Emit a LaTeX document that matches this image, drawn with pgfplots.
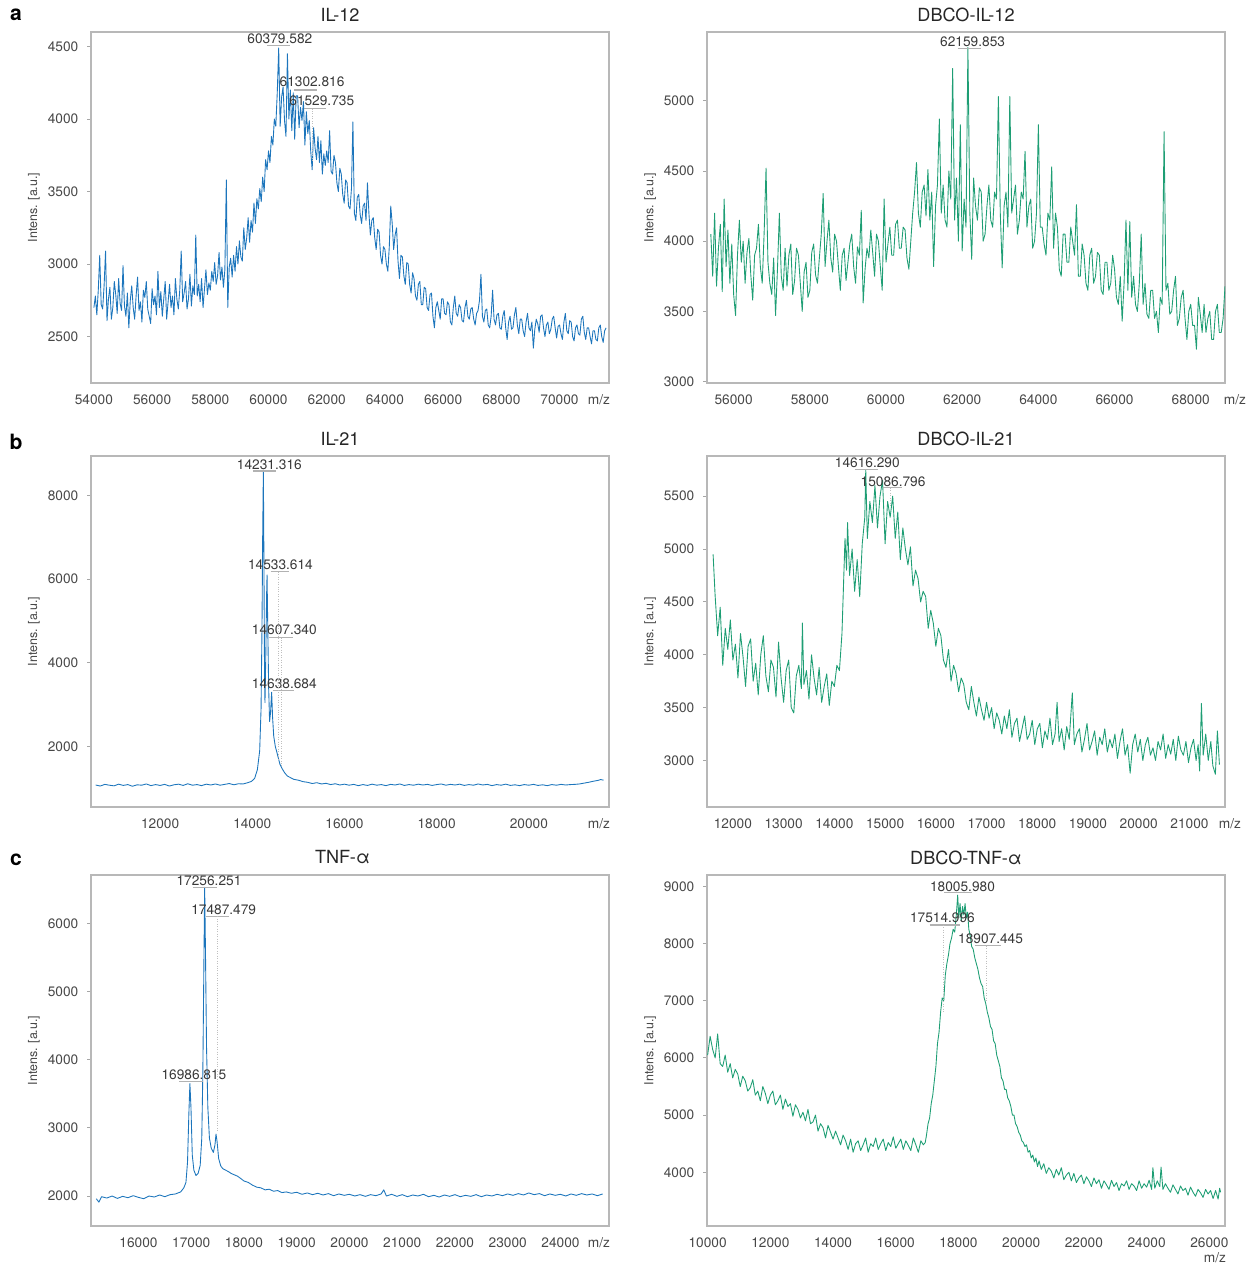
\documentclass[border=0pt]{standalone}
\usepackage{fontspec}
\setmainfont{TeX Gyre Heros}
\usepackage{pgfplots}
\pgfplotsset{compat=1.18}

\definecolor{msblue}{RGB}{28,117,188}
\definecolor{msgreen}{RGB}{30,158,116}

\pgfplotsset{
  ms/.style={
    scale only axis, width=10.36cm, height=7.02cm,
    axis line style={draw=black!28, line width=0.6pt},
    ytick style={draw=black!35, line width=0.5pt},
    xtick style={draw=none},
    major tick length=2pt, tick align=outside,
    xtick pos=bottom, ytick pos=left,
    tick label style={font=\fontsize{7.8}{9}\selectfont, text=black!72},
    yticklabel style={xshift=-0.06cm},
    xticklabel style={yshift=-0.04cm},
    /pgf/number format/assume math mode=true,
    /pgf/number format/1000 sep={},
    scaled ticks=false,
    ylabel={Intens. [a.u.]},
    ylabel style={font=\fontsize{7.1}{8}\selectfont, text=black!72,
      at={(axis description cs:-0.11,0.5)}, anchor=center},
    title style={font=\fontsize{10.3}{12}\selectfont, text=black!85,
      at={(axis description cs:0.5,1)}, anchor=center, yshift=0.14cm},
    xlabel={m/z},
    xlabel style={font=\fontsize{7.8}{9}\selectfont, text=black!72,
      at={(axis description cs:1,0)}, anchor=north, yshift=-0.1cm},
    clip mode=individual,
  },
  spec/.style={line width=0.5pt, line join=round},
}

% peak label: x, y, text, underline from, underline to, underline y
\newcommand{\pk}[6]{%
  \node[font=\fontsize{7.8}{9}\selectfont, text=black!78, inner sep=0pt] at (axis cs:#1,#2) {#3};
  \draw[black!30, line width=0.6pt] (axis cs:#4,#6) -- (axis cs:#5,#6);}
\newcommand{\dl}[3]{%
  \draw[black!25, densely dotted, line width=0.4pt] (axis cs:#1,#2) -- (axis cs:#1,#3);}

\begin{document}
\begin{tikzpicture}[x=1cm,y=1cm]
\path[use as bounding box] (0,0) rectangle (25.14,25.26);

\node[font=\bfseries\fontsize{12}{14}\selectfont] at (0.32,24.96) {a};
\node[font=\bfseries\fontsize{12}{14}\selectfont] at (0.32,16.42) {b};
\node[font=\bfseries\fontsize{12}{14}\selectfont] at (0.32,8.06) {c};

% ---------------- a: IL-12
\begin{axis}[ms, at={(1.82cm,17.6cm)}, anchor=south west,
  title={IL-12}, title style={xshift=-0.2cm},
  xlabel style={xshift=-0.2cm},
  xmin=53900, xmax=71700, ymin=2180, ymax=4600,
  xtick={54000,56000,...,70000}, ytick={2500,3000,3500,4000,4500}]
\addplot[spec, msblue] coordinates {
(54000,2700)(54050,2780)(54100,2650)(54150,2820)(54200,3060)(54250,2720)(54300,2690)(54350,2850)(54400,3090)(54450,2610)
(54500,2760)(54550,2840)(54600,2620)(54650,2700)(54700,2880)(54750,2790)(54800,2660)(54850,2900)(54900,2730)(54950,2680)
(55000,2990)(55050,2710)(55100,2640)(55150,2800)(55200,2560)(55250,2750)(55300,2850)(55350,2700)(55400,2620)(55450,2780)
(55500,2910)(55550,2680)(55600,2740)(55650,2600)(55700,2820)(55750,2770)(55800,2880)(55850,2690)(55900,2640)(55950,2590)
(56000,2830)(56050,2720)(56100,2780)(56150,2650)(56200,2950)(56250,2700)(56300,2810)(56350,2640)(56400,2760)(56450,2880)
(56500,2620)(56550,2740)(56600,2860)(56650,2700)(56700,2780)(56750,2650)(56800,2900)(56850,2760)(56900,2690)(56950,2820)
(57000,3090)(57050,2740)(57100,2800)(57150,2880)(57200,2690)(57250,2760)(57300,2930)(57350,2710)(57400,2850)(57450,2790)
(57500,3200)(57550,2780)(57600,2860)(57650,2740)(57700,2900)(57750,2700)(57800,2830)(57850,2960)(57900,2790)(57950,2870)
(58000,2820)(58050,2950)(58100,2880)(58150,3010)(58200,2860)(58250,2920)(58300,3080)(58350,2890)(58400,2980)(58450,2840)
(58500,2960)(58550,3580)(58600,2700)(58650,2980)(58700,3040)(58750,2910)(58800,3060)(58850,2950)(58900,3120)(58950,3000)
(59000,3160)(59050,3050)(59100,3020)(59150,3250)(59200,3100)(59250,3180)(59300,3320)(59350,3150)(59400,3300)(59450,3220)
(59500,3420)(59550,3280)(59600,3450)(59650,3380)(59700,3520)(59750,3430)(59800,3600)(59850,3500)(59900,3720)(59950,3650)
(60000,3780)(60050,3700)(60100,3880)(60150,3820)(60200,4000)(60250,3950)(60300,4180)(60350,4490)(60400,3950)(60450,4150)
(60500,4220)(60550,3990)(60600,3880)(60650,4450)(60700,4000)(60750,4200)(60800,3920)(60850,4180)(60900,3860)(60950,4160)
(61000,4160)(61050,3940)(61100,4080)(61150,3990)(61200,4120)(61250,3820)(61300,4050)(61350,3900)(61400,3990)(61450,3780)
(61500,3650)(61550,3940)(61600,3800)(61650,3720)(61700,3880)(61750,3700)(61800,3850)(61850,3620)(61900,3760)(61950,3680)
(62000,3780)(62050,3700)(62100,3920)(62150,3640)(62200,3620)(62250,3750)(62300,3700)(62350,3560)(62400,3500)(62450,3660)
(62500,3620)(62550,3480)(62600,3420)(62650,3580)(62700,3560)(62750,3400)(62800,3380)(62850,3520)(62900,3980)(62950,3350)
(63000,3300)(63050,3460)(63100,3480)(63150,3340)(63200,3280)(63250,3400)(63300,3420)(63350,3300)(63400,3560)(63450,3350)
(63500,3200)(63550,3300)(63600,3320)(63650,3180)(63700,3100)(63750,3240)(63800,3220)(63850,3060)(63900,3000)(63950,3120)
(64000,3100)(64050,3000)(64100,2950)(64150,3120)(64200,3400)(64250,3280)(64300,3100)(64350,3200)(64400,3250)(64450,3020)
(64500,2900)(64550,3060)(64600,3050)(64650,2920)(64700,2860)(64750,3010)(64800,3000)(64850,2860)(64900,2800)(64950,2940)
(65000,2900)(65050,2780)(65100,2750)(65150,2860)(65200,2880)(65250,2720)(65300,2720)(65350,2840)(65400,2830)(65450,2700)
(65500,2680)(65550,2790)(65600,2800)(65650,2640)(65700,2560)(65750,2700)(65800,2740)(65850,2680)(65900,2620)(65950,2760)
(66000,2760)(66050,2660)(66100,2650)(66150,2740)(66200,2720)(66250,2600)(66300,2580)(66350,2700)(66400,2780)(66450,2660)
(66500,2640)(66550,2720)(66600,2700)(66650,2610)(66700,2600)(66750,2700)(66800,2750)(66850,2640)(66900,2620)(66950,2690)
(67000,2700)(67050,2620)(67100,2580)(67150,2660)(67200,2680)(67250,2750)(67300,2930)(67350,2640)(67400,2600)(67450,2680)
(67500,2690)(67550,2580)(67600,2560)(67650,2640)(67700,2820)(67750,2620)(67800,2580)(67850,2650)(67900,2660)(67950,2560)
(68000,2550)(68050,2640)(68100,2680)(68150,2560)(68200,2480)(68250,2600)(68300,2640)(68350,2550)(68400,2560)(68450,2650)
(68500,2700)(68550,2580)(68600,2520)(68650,2620)(68700,2620)(68750,2540)(68800,2500)(68850,2600)(68900,2660)(68950,2560)
(69000,2540)(69050,2600)(69100,2420)(69150,2550)(69200,2620)(69250,2590)(69300,2530)(69350,2640)(69400,2650)(69450,2560)
(69500,2500)(69550,2580)(69600,2600)(69650,2520)(69700,2550)(69750,2620)(69800,2640)(69850,2560)(69900,2490)(69950,2570)
(70000,2580)(70050,2520)(70100,2480)(70150,2600)(70200,2660)(70250,2540)(70300,2520)(70350,2610)(70400,2600)(70450,2500)
(70500,2470)(70550,2560)(70600,2580)(70650,2520)(70700,2510)(70750,2620)(70800,2640)(70850,2530)(70900,2480)(70950,2560)
(71000,2560)(71050,2500)(71100,2450)(71150,2540)(71200,2540)(71250,2480)(71300,2470)(71350,2560)(71400,2580)(71450,2500)
(71500,2460)(71550,2540)(71600,2560)
};
\pk{60390}{4555}{60379.582}{59940}{60750}{4507}
\pk{61495}{4259}{61302.816}{60890}{61670}{4200}
\pk{61830}{4124}{61529.735}{61230}{61970}{4072}
\dl{61500}{4072}{3700}
\end{axis}

% ---------------- a: DBCO-IL-12
\begin{axis}[ms, at={(14.14cm,17.6cm)}, anchor=south west,
  title={DBCO-IL-12},
  xlabel style={xshift=0.2cm},
  xmin=55300, xmax=68900, ymin=2990, ymax=5490,
  xtick={56000,58000,...,68000}, ytick={3000,3500,4000,4500,5000}]
\addplot[spec, msgreen] coordinates {
(55400,4050)(55450,3750)(55500,4200)(55550,3680)(55600,3950)(55650,4120)(55700,3640)(55750,4300)(55800,3820)(55850,4080)
(55900,3700)(55950,3980)(56000,3620)(56050,3470)(56100,3900)(56150,4150)(56200,3850)(56250,4000)(56300,3700)(56350,3920)
(56400,4020)(56450,3760)(56500,3580)(56550,3900)(56600,3950)(56650,4120)(56700,3820)(56750,3700)(56800,4060)(56850,4520)
(56900,3850)(56950,3700)(57000,3620)(57050,3880)(57100,3470)(57150,3800)(57200,4200)(57250,3750)(57300,3650)(57350,3950)
(57400,3680)(57450,3900)(57500,3980)(57550,3620)(57600,3720)(57650,3950)(57700,3900)(57750,3700)(57800,3500)(57850,3780)
(57900,3850)(57950,3600)(58000,3650)(58050,3920)(58100,3980)(58150,3760)(58200,3700)(58250,3880)(58300,4050)(58350,4340)
(58400,3820)(58450,4000)(58500,4150)(58550,3880)(58600,3780)(58650,4050)(58700,4000)(58750,3820)(58800,3650)(58850,3900)
(58900,3950)(58950,3720)(59000,3850)(59050,3980)(59100,4050)(59150,3820)(59200,3700)(59250,3960)(59300,3900)(59350,4220)
(59400,3560)(59450,3800)(59500,3950)(59550,3880)(59600,4080)(59650,3920)(59700,3750)(59750,4050)(59800,4000)(59850,3820)
(59900,3650)(59950,4300)(60000,3850)(60050,3980)(60100,4100)(60150,3900)(60200,3900)(60250,4120)(60300,4150)(60350,3950)
(60400,3950)(60450,4100)(60500,4080)(60550,3880)(60600,3800)(60650,4000)(60700,4200)(60750,4350)(60800,4560)(60850,4200)
(60900,4100)(60950,4350)(61000,4400)(61050,4180)(61100,4510)(61150,4150)(61200,4350)(61250,3820)(61300,4250)(61350,4400)
(61400,4870)(61450,4200)(61500,4400)(61550,4150)(61600,4100)(61650,4500)(61700,4300)(61750,5230)(61800,4150)(61850,4450)
(61900,4000)(61950,4830)(62000,3930)(62050,4300)(62100,4100)(62150,5380)(62200,4200)(62250,3870)(62300,4450)(62350,4250)
(62400,4150)(62450,4380)(62500,4350)(62550,4000)(62600,4050)(62650,4250)(62700,4400)(62750,4150)(62800,4100)(62850,4350)
(62900,4300)(62950,5030)(63000,4200)(63050,3810)(63100,4250)(63150,4350)(63200,4100)(63250,5030)(63300,4200)(63350,4300)
(63400,4400)(63450,4050)(63500,4150)(63550,4350)(63600,4300)(63650,4640)(63700,4100)(63750,4250)(63800,4300)(63850,3950)
(63900,4000)(63950,4200)(64000,4830)(64050,4100)(64100,4100)(64150,3980)(64200,3900)(64250,4200)(64300,4150)(64350,4530)
(64400,3950)(64450,4200)(64500,4100)(64550,3800)(64600,3750)(64650,4050)(64700,4050)(64750,3850)(64800,3850)(64850,4100)
(64900,4000)(64950,3900)(65000,4260)(65050,3750)(65100,3750)(65150,3980)(65200,3900)(65250,3700)(65300,3650)(65350,3900)
(65400,3950)(65450,3700)(65500,3750)(65550,3920)(65600,3900)(65650,3650)(65700,3620)(65750,3850)(65800,3850)(65850,3650)
(65900,3700)(65950,3900)(66000,3800)(66050,3600)(66100,3550)(66150,3750)(66200,3430)(66250,3700)(66300,4150)(66350,3650)
(66400,4140)(66450,3600)(66500,3750)(66550,3550)(66600,3500)(66650,3700)(66700,4050)(66750,3550)(66800,3700)(66850,3480)
(66900,3450)(66950,3650)(67000,3650)(67050,3450)(67100,3500)(67150,3350)(67200,3600)(67250,3550)(67300,4780)(67350,3650)
(67400,3700)(67450,3480)(67500,3500)(67550,3650)(67600,3750)(67650,3400)(67700,3450)(67750,3600)(67800,3650)(67850,3450)
(67900,3300)(67950,3500)(68000,3550)(68050,3400)(68100,3400)(68150,3230)(68200,3600)(68250,3480)(68300,3350)(68350,3550)
(68400,3350)(68450,3450)(68500,3500)(68550,3300)(68600,3300)(68650,3500)(68700,3550)(68750,3350)(68800,3350)(68850,3450)
(68900,3680)
};
\pk{62273}{5419}{62159.853}{61886}{62482}{5374}
\end{axis}

% ---------------- b: IL-21
\begin{axis}[ms, at={(1.82cm,9.12cm)}, anchor=south west,
  title={IL-21}, title style={xshift=-0.2cm},
  xlabel style={xshift=-0.2cm},
  xmin=10500, xmax=21740, ymin=560, ymax=8940,
  xtick={12000,14000,...,20000}, ytick={2000,4000,6000,8000}]
\addplot[spec, msblue] coordinates {
(10600,1085)(10700,1060)(10800,1100)(10900,1080)(11000,1065)(11100,1105)(11200,1075)(11300,1095)
(11400,1055)(11500,1090)(11600,1080)(11700,1110)(11800,1070)(11900,1095)(12000,1075)(12100,1100)
(12200,1060)(12300,1090)(12400,1105)(12500,1075)(12600,1115)(12700,1080)(12800,1095)(12900,1070)
(13000,1105)(13100,1085)(13200,1110)(13300,1080)(13400,1100)(13500,1120)(13600,1090)(13700,1115)
(13800,1110)(13900,1140)(13980,1170)(14050,1240)(14110,1450)(14160,1900)(14190,2900)(14210,4800)
(14225,7000)(14240,8600)(14252,6500)(14265,3800)(14275,3050)(14295,4300)(14310,5600)(14320,6100)
(14335,4900)(14355,3400)(14375,2600)(14395,2800)(14420,3300)(14440,2700)(14465,2250)(14500,2000)
(14530,1880)(14560,1750)(14600,1580)(14650,1470)(14700,1380)(14760,1300)(14830,1260)(14900,1220)
(15000,1200)(15100,1165)(15200,1150)(15300,1120)(15400,1140)(15500,1110)(15600,1125)(15700,1095)
(15800,1115)(15900,1085)(16000,1105)(16100,1080)(16200,1100)(16300,1070)(16400,1095)(16500,1075)
(16600,1105)(16700,1080)(16800,1095)(16900,1070)(17000,1100)(17100,1085)(17200,1110)(17300,1075)
(17400,1095)(17500,1080)(17600,1105)(17700,1085)(17800,1100)(17900,1075)(18000,1095)(18100,1110)
(18200,1080)(18300,1100)(18400,1085)(18500,1105)(18600,1075)(18700,1095)(18800,1080)(18900,1110)
(19000,1085)(19100,1100)(19200,1070)(19300,1095)(19400,1080)(19500,1105)(19600,1075)(19700,1090)
(19800,1070)(19900,1095)(20000,1080)(20100,1100)(20200,1075)(20300,1090)(20400,1070)(20500,1095)
(20600,1080)(20700,1100)(20800,1085)(20900,1095)(21000,1100)(21100,1110)(21200,1130)(21300,1150)
(21400,1175)(21500,1195)(21560,1215)(21620,1200)
};
\pk{14370}{8740}{14231.316}{14010}{14524}{8581}
\pk{14610}{6335}{14533.614}{14396}{14798}{6175}
\pk{14695}{4781}{14607.340}{14353}{14883}{4605}
\pk{14695}{3506}{14638.684}{14439}{14909}{3347}
\dl{14567}{6175}{1700}
\dl{14627}{4605}{1500}
\end{axis}

% ---------------- b: DBCO-IL-21
\begin{axis}[ms, at={(14.14cm,9.12cm)}, anchor=south west,
  title={DBCO-IL-21},
  xlabel style={xshift=0.1cm},
  xmin=11490, xmax=21700, ymin=2560, ymax=5880,
  xtick={12000,13000,...,21000}, ytick={3000,3500,4000,4500,5000,5500}]
\addplot[spec, msgreen] coordinates {
(11610,4950)(11650,4560)(11700,4180)(11750,4450)(11800,3900)(11850,4250)(11900,4050)(11950,4330)(12000,3950)(12050,4100)
(12100,3780)(12150,4200)(12200,3980)(12250,3700)(12300,4080)(12350,4150)(12400,3750)(12450,3920)(12500,3620)(12550,4000)
(12600,4180)(12650,3800)(12700,3650)(12750,3950)(12800,3880)(12850,3600)(12900,4120)(12950,3780)(13000,3550)(13050,3850)
(13100,3950)(13150,3500)(13200,3450)(13250,3800)(13300,3900)(13350,3680)(13370,4300)(13400,3720)(13450,3850)(13500,3580)
(13550,4000)(13600,3780)(13650,3620)(13700,3880)(13750,3550)(13800,3700)(13850,3820)(13900,3520)(13950,3750)(14000,3700)
(14050,3900)(14100,3850)(14150,4200)(14180,4650)(14210,5100)(14240,4800)(14260,5250)(14300,4750)(14350,5000)(14400,4600)
(14450,4900)(14500,4550)(14550,5050)(14600,5300)(14619,5750)(14650,5100)(14700,5450)(14750,5250)(14800,5600)(14850,5200)
(14900,5500)(14950,5650)(15000,5050)(15050,5450)(15100,5300)(15150,5500)(15200,5100)(15250,5350)(15300,4900)(15350,5200)
(15400,5000)(15450,4850)(15500,5020)(15550,4650)(15600,4800)(15650,4720)(15700,4500)(15750,4600)(15800,4550)(15850,4250)
(15900,4420)(15950,4300)(16000,4080)(16050,4250)(16100,4180)(16150,3950)(16200,3880)(16250,4050)(16300,3750)(16350,3900)
(16400,3820)(16450,3650)(16500,3780)(16550,3720)(16600,3550)(16650,3480)(16700,3700)(16750,3550)(16800,3420)(16850,3600)
(16900,3480)(16950,3380)(17000,3550)(17050,3400)(17100,3500)(17150,3300)(17200,3450)(17250,3380)(17300,3250)(17350,3420)
(17400,3300)(17450,3480)(17500,3220)(17550,3350)(17600,3400)(17650,3180)(17700,3300)(17750,3420)(17800,3200)(17850,3250)
(17900,3380)(17950,3150)(18000,3300)(18050,3350)(18100,3120)(18150,3280)(18200,3200)(18250,3400)(18300,3150)(18350,3250)
(18390,3550)(18430,3180)(18480,3300)(18530,3100)(18580,3320)(18630,3200)(18690,3640)(18730,3150)(18780,3250)(18830,3300)
(18880,3080)(18930,3200)(18980,3350)(19030,3100)(19080,3180)(19130,3280)(19180,3050)(19230,3220)(19280,3150)(19330,3300)
(19380,3080)(19430,3200)(19480,3120)(19530,3250)(19580,3020)(19630,3180)(19680,3300)(19730,3050)(19780,3150)(19830,2880)
(19880,3150)(19930,3250)(19980,3080)(20030,3200)(20080,3000)(20130,3150)(20180,3220)(20230,3050)(20280,3120)(20330,3000)
(20380,3180)(20430,3100)(20480,3250)(20530,3020)(20580,3150)(20630,3060)(20680,3200)(20730,3000)(20780,3230)(20830,3100)
(20880,3050)(20930,3180)(20980,2980)(21030,3120)(21080,3200)(21130,3000)(21170,3150)(21200,2900)(21235,3540)(21270,3050)
(21320,3250)(21370,3000)(21420,3180)(21460,2950)(21510,2870)(21550,3280)(21590,2960)
};
\pk{14650}{5819}{14616.290}{14400}{14853}{5756}
\pk{15157}{5641}{15086.796}{14962}{15336}{5579}
\dl{15100}{5579}{5400}
\end{axis}

% ---------------- c: TNF-alpha
\begin{axis}[ms, at={(1.82cm,0.74cm)}, anchor=south west,
  title={TNF-α}, title style={xshift=-0.15cm},
  xlabel style={xshift=-0.2cm},
  xmin=15100, xmax=24920, ymin=1560, ymax=6710,
  xtick={16000,17000,...,24000}, ytick={2000,3000,4000,5000,6000}]
\addplot[spec, msblue] coordinates {
(15200,1960)(15250,1910)(15300,1990)(15400,1970)(15500,2000)(15600,1965)(15700,1995)(15800,1975)
(15900,2005)(16000,1980)(16100,1960)(16200,2000)(16300,1985)(16400,2015)(16500,1990)(16600,2020)
(16700,2030)(16800,2060)(16860,2120)(16900,2200)(16930,2500)(16955,3200)(16975,3650)(16995,3300)
(17020,2600)(17050,2380)(17090,2300)(17130,2330)(17170,2450)(17200,2850)(17220,3800)(17240,5400)
(17255,6530)(17270,5600)(17290,4200)(17315,3300)(17345,2850)(17380,2700)(17420,2640)(17450,2750)
(17470,2910)(17490,2800)(17520,2550)(17560,2440)(17600,2400)(17650,2380)(17700,2360)(17760,2330)
(17820,2310)(17880,2290)(17950,2250)(18000,2220)(18080,2200)(18160,2160)(18240,2130)(18320,2120)
(18400,2090)(18480,2100)(18560,2070)(18640,2080)(18720,2050)(18800,2060)(18900,2040)(19000,2055)
(19100,2025)(19200,2045)(19300,2020)(19400,2040)(19500,2015)(19600,2035)(19700,2005)(19800,2030)
(19900,2010)(20000,2025)(20100,2000)(20200,2020)(20300,1995)(20400,2020)(20500,2005)(20600,2030)
(20650,2090)(20700,2000)(20800,2025)(20900,1995)(21000,2020)(21100,1990)(21200,2015)(21300,2000)
(21400,2025)(21500,1990)(21600,2010)(21700,1985)(21800,2015)(21900,1995)(22000,2020)(22100,1990)
(22200,2010)(22300,1995)(22400,2020)(22500,1990)(22600,2015)(22700,2000)(22800,2025)(22900,2005)
(23000,2030)(23100,2010)(23200,2035)(23300,2015)(23400,2045)(23500,2020)(23600,2035)(23700,2005)
(23800,2030)(23900,2010)(24000,2025)(24100,2000)(24200,2030)(24300,2010)(24400,2035)(24500,2015)
(24600,2030)(24700,2005)(24800,2030)
};
\pk{17337}{6626}{17256.251}{17037}{17488}{6522}
\pk{17615}{6202}{17487.479}{17277}{17713}{6103}
\pk{17052}{3783}{16986.815}{16774}{17217}{3675}
\dl{17503}{6103}{2950}
\end{axis}

% ---------------- c: DBCO-TNF-alpha
\begin{axis}[ms, at={(14.14cm,0.74cm)}, anchor=south west,
  title={DBCO-TNF-α},
  xlabel style={xshift=-0.2cm, yshift=-0.3cm},
  xmin=9980, xmax=26500, ymin=3060, ymax=9200,
  xtick={10000,12000,...,26000}, ytick={4000,5000,6000,7000,8000,9000}]
\addplot[spec, msgreen] coordinates {
(10000,6050)(10080,6380)(10160,6150)(10240,6000)(10320,6420)(10400,5900)(10480,5850)(10560,6050)(10640,5750)(10720,5900)
(10800,5650)(10880,5800)(10960,5720)(11040,5500)(11120,5680)(11200,5600)(11280,5420)(11360,5480)(11440,5620)(11520,5350)
(11600,5420)(11680,5250)(11760,5500)(11840,5380)(11920,5200)(12000,5350)(12080,5420)(12160,5180)(12240,5250)(12320,5350)
(12400,5100)(12480,5280)(12560,5150)(12640,5200)(12720,4980)(12800,5180)(12880,5100)(12960,4950)(13040,5050)(13120,4900)
(13200,5100)(13280,4850)(13360,4880)(13440,5000)(13520,4720)(13600,4850)(13680,4780)(13760,4600)(13840,4820)(13920,4700)
(14000,4580)(14080,4720)(14160,4600)(14240,4480)(14320,4650)(14400,4550)(14480,4400)(14560,4580)(14640,4350)(14720,4500)
(14800,4550)(14880,4380)(14960,4480)(15040,4600)(15120,4350)(15200,4500)(15280,4450)(15360,4600)(15440,4400)(15520,4500)
(15600,4580)(15680,4380)(15760,4520)(15840,4450)(15920,4620)(16000,4420)(16080,4500)(16160,4580)(16240,4400)(16320,4550)
(16400,4470)(16480,4380)(16560,4600)(16640,4480)(16720,4350)(16800,4550)(16880,4480)(16940,4520)
(16980,4650)(17030,4850)(17080,4950)(17130,5200)(17180,5350)(17230,5600)(17280,5850)(17330,6250)(17380,6450)(17430,6800)
(17480,7050)(17530,7000)(17580,7450)(17630,7650)(17680,7800)(17730,8000)(17780,8100)(17830,8250)(17880,8200)(17930,8500)
(17975,8850)(18010,8450)(18050,8700)(18090,8400)(18130,8650)(18170,8500)(18210,8700)(18250,8450)(18290,8550)(18330,8250)
(18370,8150)(18420,7950)(18470,7900)(18520,7750)(18570,7650)(18620,7550)(18670,7400)(18720,7300)(18770,7250)(18820,7050)
(18870,6950)(18920,6800)(18970,6700)(19020,6550)(19070,6500)(19120,6300)(19170,6250)(19220,6050)(19270,5950)(19320,5850)
(19370,5650)(19420,5600)(19470,5450)(19520,5450)(19570,5300)(19620,5250)(19670,5150)(19720,5000)(19770,5000)(19820,4850)
(19870,4800)(19920,4700)(19970,4650)(20020,4550)(20070,4520)(20120,4450)(20170,4480)(20220,4350)(20270,4380)(20320,4250)
(20370,4300)(20420,4180)(20470,4250)(20520,4100)(20570,4200)
(20640,4050)(20720,4150)(20800,3980)(20880,4080)(20960,4020)(21040,3900)(21120,4050)(21200,3950)(21280,4080)(21360,3870)
(21440,3950)(21520,4000)(21600,3850)(21680,3980)(21760,3820)(21840,3900)(21920,3950)(22000,3800)(22080,3920)(22160,3850)
(22240,3750)(22320,3900)(22400,3800)(22480,3870)(22560,3720)(22640,3850)(22720,3780)(22800,3700)(22880,3860)(22960,3750)
(23040,3820)(23120,3680)(23200,3800)(23280,3760)(23360,3850)(23440,3700)(23520,3800)(23600,3760)(23680,3680)(23760,3850)
(23840,3720)(23920,3800)(24000,3740)(24080,3860)(24160,3700)(24200,4080)(24260,3720)(24340,3850)(24420,3750)(24460,4090)
(24520,3700)(24600,3800)(24680,3720)(24760,3650)(24840,3780)(24920,3700)(25000,3620)(25080,3760)(25160,3680)(25240,3720)
(25320,3600)(25400,3740)(25480,3650)(25560,3580)(25640,3700)(25720,3640)(25800,3560)(25880,3700)(25960,3620)(26040,3680)
(26120,3540)(26200,3680)(26280,3530)(26330,3720)(26360,3650)
};
\pk{18128}{9003}{18005.980}{17552}{18422}{8887}
\pk{17488}{8452}{17514.996}{17078}{18064}{8325}
\pk{19024}{8087}{18907.445}{18512}{19344}{7959}
\dl{17514}{8325}{6800}
\dl{18896}{7959}{7000}
\end{axis}
\end{tikzpicture}
\end{document}
